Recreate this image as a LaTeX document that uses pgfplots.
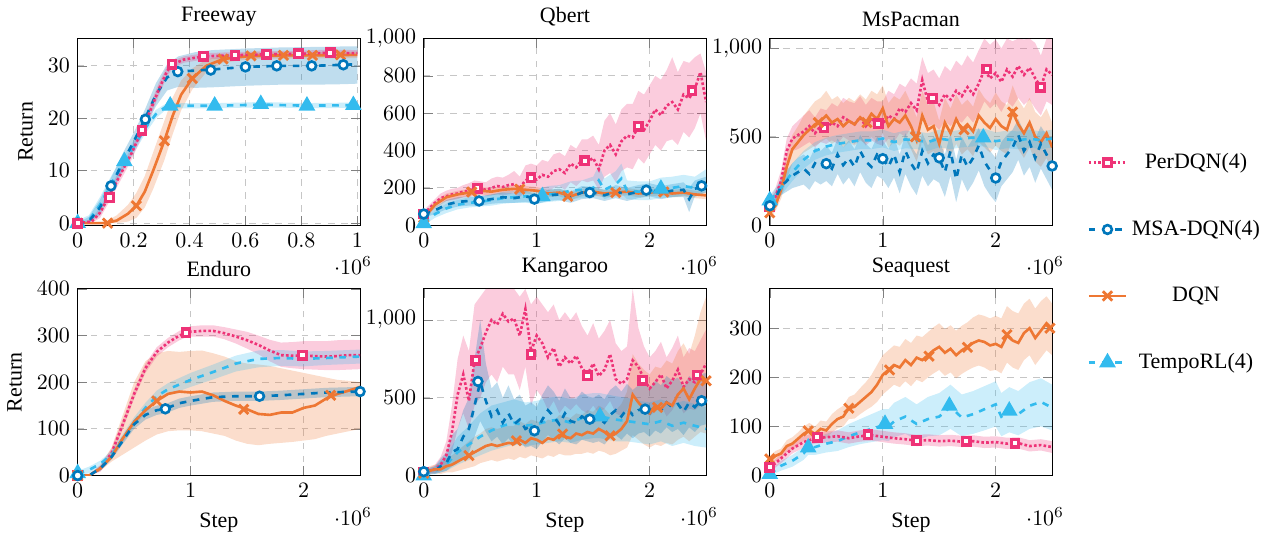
\documentclass[border=0pt]{standalone}
\usepackage{fontspec}
\setmainfont{Liberation Serif}
\usepackage{pgfplots}
\usepackage{pgfplotstable}
\pgfplotsset{compat=1.18}
\usepgfplotslibrary{groupplots,fillbetween}

\definecolor{cPer}{HTML}{EE3377}
\definecolor{cMsa}{HTML}{0077BB}
\definecolor{cDqn}{HTML}{EE7733}
\definecolor{cTem}{HTML}{33BBEE}

\pgfplotsset{
  per/.style={cPer, very thick, densely dotted, mark=square*, mark size=1.7pt,
    mark options={solid, fill=white, line width=1.5pt}},
  msa/.style={cMsa, very thick, dashed, mark=*, mark size=2pt,
    mark options={solid, fill=white, line width=1.2pt}},
  dqn/.style={cDqn, very thick, mark=x, mark size=3pt,
    mark options={solid, line width=1.3pt}},
  tem/.style={cTem, very thick, dashed, mark=triangle*, mark size=3.2pt,
    mark options={solid}},
  sx/.style={scaled x ticks=manual:{$\cdot 10^{6}$}{\pgfmathparse{##1}},
    every x tick scale label/.style={at={(xticklabel cs:0.975)}, anchor=north,
      inner sep=0pt, yshift=-1pt}},
}

\newcommand{\band}[3]{%
  \addplot[draw=none, forget plot, name path=#3h] table[x=x,y=hi]{#1};
  \addplot[draw=none, forget plot, name path=#3l] table[x=x,y=lo]{#1};
  \addplot[fill=#2, fill opacity=0.25, draw=none, forget plot] fill between[of=#3h and #3l];}
\newcommand{\curve}[2]{\addplot[#2, no marks, forget plot] table[x=x,y=y]{#1};}

% ---------------- Freeway
\pgfplotstableread{
x y lo hi
0 0 0 0
0.05 0.3 0 0.8
0.08 2 1 3
0.11 4.9 3.8 6
0.15 9 7.8 10.2
0.19 13 11.8 14.2
0.23 17.7 16.5 18.9
0.26 21.5 20.3 22.7
0.29 25.5 24.3 26.7
0.32 29 28 30
0.34 30.3 29.6 31
0.38 31.2 30.6 31.8
0.45 31.8 31.2 32.4
0.55 32 31.4 32.6
0.68 32.2 31.6 32.8
0.8 32.3 31.7 32.9
0.9 32.5 31.9 33.1
1.0 32.4 31.8 33
}\fwP
\pgfplotstableread{
x y lo hi
0 0 0 0
0.04 0.3 0 1.2
0.08 3 1.5 4.5
0.12 7.1 5.5 8.7
0.16 11.5 9.8 13.2
0.2 15.5 13.8 17.2
0.24 19.8 18 21.6
0.28 24.5 22.3 26.7
0.32 27.8 25.3 30.3
0.36 28.9 26 31.8
0.42 29.1 25.8 32.6
0.48 29.3 25.9 33
0.6 29.8 26.2 33.3
0.72 30 26.4 33.5
0.84 30 26.4 33.6
0.95 30.2 26.5 33.7
1.0 30.3 26.6 33.7
}\fwM
\pgfplotstableread{
x y lo hi
0 0 0 0
0.1 0 0 0.3
0.14 0.5 0 1.5
0.18 1.8 0.3 3.5
0.21 3.3 1 5.8
0.24 6 3 9
0.27 10 6.5 13.5
0.31 15.7 12 19.5
0.34 20.5 17 24
0.37 24.5 21.5 27.2
0.41 27.6 25.5 29.5
0.46 30 28.8 31.2
0.52 31.3 30.6 32
0.62 31.9 31.3 32.5
0.74 32 31.4 32.6
0.85 32 31.4 32.6
1.0 32.1 31.5 32.7
}\fwD
\pgfplotstableread{
x y lo hi
0 0 0 0.5
0.04 0.5 0 1.5
0.08 3.5 2 5
0.12 7.5 6 9
0.167 11.8 10.5 13.1
0.2 14.5 13.3 15.7
0.24 18 16.9 19.1
0.28 20.8 20 21.6
0.31 22 21.4 22.6
0.33 22.4 21.9 22.9
0.5 22.4 21.9 22.9
0.66 22.6 22.1 23.1
0.82 22.4 21.9 22.9
1.0 22.5 22 23
}\fwT

% ---------------- Qbert
\pgfplotstableread{
x y lo hi
0 60 40 80
0.05 90 70 110
0.1 120 100 140
0.15 145 120 170
0.2 155 130 185
0.25 165 135 195
0.3 170 140 200
0.35 180 150 215
0.4 185 150 225
0.45 200 160 240
0.5 195 160 235
0.55 190 155 230
0.6 200 160 250
0.65 210 165 260
0.7 205 160 255
0.75 215 165 270
0.8 220 170 290
0.85 200 150 260
0.9 240 180 320
0.95 255 190 330
1.0 245 180 320
1.05 270 190 350
1.1 260 180 340
1.15 290 200 380
1.2 300 210 390
1.25 280 190 370
1.3 330 230 430
1.35 310 210 410
1.4 350 240 460
1.45 340 230 460
1.5 360 240 480
1.55 300 190 430
1.6 400 260 560
1.65 430 280 600
1.7 380 230 540
1.75 450 290 620
1.8 480 310 650
1.85 470 300 650
1.9 530 360 720
1.95 510 330 700
2.0 560 380 750
2.05 620 430 800
2.1 590 400 780
2.15 640 450 830
2.2 660 460 900
2.25 620 430 820
2.3 700 500 880
2.35 680 470 870
2.4 730 520 900
2.45 820 600 920
2.5 660 450 820
}\qbP
\pgfplotstableread{
x y lo hi
0 60 40 80
0.1 80 60 100
0.2 110 85 135
0.3 125 100 150
0.4 130 105 155
0.5 130 105 155
0.6 140 115 165
0.7 150 120 175
0.8 145 120 170
0.9 155 125 185
1.0 140 115 165
1.1 160 130 190
1.2 165 135 195
1.3 150 120 180
1.4 175 140 210
1.5 175 145 205
1.6 160 130 190
1.7 180 145 215
1.8 165 130 200
1.9 180 145 215
2.0 190 155 225
2.1 175 140 210
2.2 185 150 220
2.3 190 150 230
2.35 140 70 200
2.4 195 155 240
2.5 215 175 260
}\qbM
\pgfplotstableread{
x y lo hi
0 40 25 55
0.1 110 90 130
0.2 150 130 170
0.3 165 145 185
0.4 175 155 195
0.5 185 165 205
0.6 180 160 200
0.7 190 170 210
0.8 195 175 215
0.9 190 170 210
1.0 185 165 205
1.1 170 150 190
1.2 175 155 195
1.3 155 135 175
1.4 175 155 195
1.5 180 160 200
1.6 170 150 190
1.7 175 155 195
1.8 180 160 200
1.9 170 150 190
2.0 175 155 195
2.1 180 160 200
2.2 170 150 190
2.3 175 155 195
2.4 165 145 185
2.5 160 140 180
}\qbD
\pgfplotstableread{
x y lo hi
0 10 0 30
0.1 60 40 80
0.2 90 65 115
0.3 110 85 135
0.4 120 95 150
0.5 125 100 155
0.6 135 105 165
0.7 145 115 180
0.8 150 120 185
0.9 155 120 195
1.0 150 115 190
1.1 165 125 210
1.2 170 130 215
1.3 185 140 235
1.4 190 145 240
1.5 200 150 260
1.55 240 170 320
1.6 190 140 250
1.7 220 160 290
1.75 250 170 330
1.8 185 140 240
1.9 180 135 235
2.0 180 135 235
2.1 195 145 255
2.2 200 150 260
2.3 210 160 270
2.4 200 150 260
2.5 240 180 300
}\qbT

% ---------------- MsPacman
\pgfplotstableread{
x y lo hi
0 110 70 150
0.05 160 110 210
0.1 250 190 310
0.15 420 350 490
0.2 490 420 560
0.25 510 430 590
0.3 530 450 620
0.35 560 470 650
0.4 520 440 610
0.45 560 470 660
0.5 550 460 650
0.55 580 480 690
0.6 560 460 670
0.65 610 500 720
0.7 590 480 700
0.75 570 460 690
0.8 610 490 730
0.85 560 450 680
0.9 600 480 720
0.95 580 460 700
1.0 570 450 700
1.05 620 490 760
1.1 600 470 740
1.15 660 520 800
1.2 640 500 780
1.25 690 550 830
1.3 650 510 800
1.35 820 640 950
1.4 700 560 860
1.45 720 570 880
1.5 680 540 830
1.55 740 590 900
1.6 710 560 870
1.65 760 600 930
1.7 730 580 900
1.75 780 620 960
1.8 740 580 920
1.85 800 630 990
1.9 880 700 1055
1.95 830 660 1020
2.0 860 690 1050
2.05 810 640 1000
2.1 880 700 1055
2.15 840 670 1040
2.2 900 720 1055
2.25 850 680 1050
2.3 890 710 1055
2.35 830 660 1030
2.4 780 620 960
2.45 880 700 1055
2.5 850 680 1050
}\msP
\pgfplotstableread{
x y lo hi
0 110 80 140
0.05 150 110 190
0.1 220 170 270
0.15 250 190 310
0.2 280 210 350
0.25 300 220 380
0.3 320 230 400
0.35 290 200 370
0.4 350 250 440
0.45 330 230 420
0.5 355 250 450
0.55 320 220 410
0.6 400 290 490
0.65 340 230 440
0.7 380 270 480
0.75 330 220 430
0.8 420 300 510
0.85 360 240 460
0.9 330 210 430
0.95 400 280 500
1.0 380 260 480
1.05 330 210 430
1.1 400 270 500
1.15 300 180 400
1.2 420 290 520
1.25 350 220 450
1.3 300 170 400
1.35 420 280 520
1.4 350 220 450
1.45 400 260 500
1.5 380 240 480
1.55 300 160 400
1.6 420 280 520
1.65 260 130 370
1.7 400 260 500
1.75 330 190 440
1.8 380 240 490
1.85 450 310 550
1.9 360 220 470
1.95 310 170 420
2.0 270 130 380
2.05 360 220 470
2.1 400 260 510
2.15 440 300 540
2.2 510 370 600
2.25 420 280 530
2.3 470 330 570
2.35 380 240 490
2.4 460 320 560
2.45 400 260 510
2.5 340 200 450
}\msM
\pgfplotstableread{
x y lo hi
0 70 40 100
0.05 110 80 150
0.1 200 150 260
0.15 330 260 400
0.2 430 350 510
0.25 470 380 560
0.3 510 410 620
0.35 540 430 660
0.4 570 450 700
0.45 590 470 720
0.5 620 490 760
0.55 580 460 710
0.6 600 480 730
0.65 560 440 690
0.7 590 470 720
0.75 570 450 700
0.8 610 480 740
0.85 580 460 710
0.9 630 500 760
0.95 600 470 740
1.0 660 520 790
1.05 560 440 690
1.1 600 470 730
1.15 580 450 710
1.2 620 490 760
1.25 560 430 690
1.3 480 360 610
1.35 620 480 760
1.4 540 400 680
1.45 560 420 700
1.5 460 340 590
1.55 580 440 720
1.6 520 390 660
1.65 600 460 740
1.7 540 400 680
1.75 570 430 710
1.8 530 390 670
1.85 620 470 770
1.9 580 440 720
1.95 550 410 690
2.0 600 450 750
2.05 560 420 700
2.1 540 400 680
2.15 640 490 790
2.2 570 430 710
2.25 520 380 660
2.3 580 440 720
2.35 500 360 640
2.4 470 330 610
2.45 520 380 660
2.5 440 300 580
}\msD
\pgfplotstableread{
x y lo hi
0 140 110 170
0.1 210 170 250
0.2 300 250 350
0.3 370 320 420
0.4 420 370 470
0.5 445 395 495
0.6 460 410 510
0.7 470 420 520
0.8 480 430 530
0.9 480 430 530
1.0 490 440 540
1.1 470 420 520
1.2 485 435 535
1.3 480 430 530
1.4 470 420 520
1.5 490 440 540
1.6 480 430 530
1.7 490 440 540
1.8 495 445 545
1.9 495 445 545
2.0 475 425 525
2.1 485 435 535
2.2 480 430 530
2.3 490 440 540
2.4 480 430 530
2.5 490 440 540
}\msT

% ---------------- Enduro
\pgfplotstableread{
x y lo hi
0 0 0 0
0.1 0 0 2
0.2 15 8 22
0.3 48 38 58
0.4 110 100 120
0.5 175 165 185
0.6 230 220 240
0.7 265 255 275
0.8 285 275 295
0.9 300 290 310
0.96 306 296 316
1.0 308 298 320
1.1 310 298 322
1.2 310 298 322
1.3 305 292 318
1.4 298 283 313
1.5 290 272 308
1.6 280 260 300
1.7 268 245 291
1.8 258 233 285
1.9 257 230 286
2.0 257 228 288
2.1 256 227 288
2.2 255 226 288
2.3 256 226 290
2.4 258 227 291
2.5 258 228 290
}\enP
\pgfplotstableread{
x y lo hi
0 0 0 0
0.1 0 0 2
0.2 15 10 20
0.3 40 34 46
0.4 75 68 82
0.5 110 100 120
0.6 130 120 140
0.7 140 130 150
0.776 143 133 153
0.9 155 145 165
1.0 160 150 170
1.2 168 158 178
1.4 170 160 180
1.61 170 160 180
1.8 172 162 182
2.0 175 165 185
2.2 178 168 188
2.5 180 170 190
}\enM
\pgfplotstableread{
x y lo hi
0 0 0 0
0.1 0 0 2
0.2 15 10 22
0.3 40 30 60
0.4 80 45 130
0.5 115 60 200
0.6 140 75 245
0.7 160 88 262
0.8 175 95 267
0.9 180 97 265
1.0 178 97 267
1.1 180 95 268
1.2 172 90 262
1.3 160 85 255
1.4 150 75 245
1.5 142 68 240
1.6 132 65 238
1.7 130 68 235
1.8 135 70 230
1.9 135 72 225
2.0 145 75 220
2.1 150 78 215
2.2 165 85 210
2.3 175 90 205
2.4 182 95 203
2.5 190 100 200
}\enD
\pgfplotstableread{
x y lo hi
0 5 0 10
0.1 12 5 19
0.2 25 18 32
0.3 45 37 53
0.4 80 71 89
0.5 115 105 125
0.6 145 134 156
0.7 170 158 182
0.8 185 172 198
0.9 195 181 209
1.0 205 190 220
1.2 222 206 238
1.4 240 223 257
1.6 250 232 268
1.8 252 235 269
2.0 250 234 266
2.2 252 237 267
2.5 255 240 270
}\enT

% ---------------- Kangaroo
\pgfplotstableread{
x y lo hi
0 20 0 40
0.05 30 10 50
0.1 40 15 70
0.15 70 30 120
0.2 130 60 220
0.25 280 150 450
0.3 520 300 750
0.35 650 400 900
0.4 480 300 800
0.45 740 450 1100
0.5 820 500 1150
0.55 920 600 1200
0.6 1000 650 1200
0.65 970 600 1200
0.7 1040 700 1200
0.75 990 650 1200
0.8 1010 650 1200
0.85 900 550 1150
0.9 1070 700 1200
0.95 800 450 1100
1.0 900 550 1150
1.05 850 500 1100
1.1 760 420 1050
1.15 820 480 1100
1.2 700 400 1000
1.25 760 450 1050
1.3 720 420 1000
1.35 770 460 1050
1.4 690 420 960
1.45 650 400 900
1.5 720 450 980
1.55 640 400 880
1.6 680 430 930
1.65 780 480 1000
1.7 620 400 850
1.75 590 380 800
1.8 620 420 830
1.85 740 500 1200
1.9 700 480 950
1.95 620 420 830
2.0 560 380 760
2.05 600 420 800
2.1 650 450 860
2.15 560 380 760
2.2 610 420 820
2.25 680 480 900
2.3 570 400 760
2.35 620 430 820
2.4 600 420 800
2.45 650 450 870
2.5 720 500 940
}\kaP
\pgfplotstableread{
x y lo hi
0 25 10 40
0.05 30 15 50
0.1 30 10 60
0.15 60 20 110
0.2 80 30 150
0.25 150 60 260
0.3 170 80 300
0.35 250 120 420
0.4 300 150 500
0.45 450 250 750
0.5 600 350 1000
0.55 480 280 720
0.6 380 220 560
0.65 420 250 600
0.7 340 200 500
0.75 400 240 580
0.8 330 190 490
0.85 360 220 520
0.9 300 180 450
0.95 320 190 470
1.0 290 170 440
1.05 360 220 520
1.1 420 260 580
1.15 380 230 540
1.2 330 200 480
1.25 400 240 560
1.3 350 210 500
1.35 340 200 490
1.4 380 230 540
1.45 360 220 510
1.5 350 210 500
1.55 370 220 520
1.6 340 200 490
1.65 390 240 550
1.7 420 260 580
1.75 380 230 540
1.8 430 270 590
1.85 390 240 550
1.9 420 270 580
1.95 430 280 590
2.0 400 250 560
2.05 450 290 610
2.1 420 270 580
2.15 470 310 640
2.2 440 280 610
2.25 460 300 630
2.3 410 260 570
2.35 470 310 640
2.4 440 280 610
2.45 480 320 650
2.5 490 330 660
}\kaM
\pgfplotstableread{
x y lo hi
0 15 0 40
0.05 30 10 60
0.1 40 15 70
0.15 40 10 80
0.2 60 20 110
0.25 70 20 130
0.3 90 30 160
0.35 110 40 190
0.4 130 50 220
0.45 150 60 250
0.5 170 80 270
0.55 190 90 300
0.6 200 100 310
0.65 190 90 300
0.7 200 100 310
0.75 210 110 320
0.8 205 100 320
0.85 230 120 350
0.9 210 110 330
0.95 240 130 360
1.0 230 120 350
1.05 210 110 330
1.1 240 130 360
1.15 230 120 350
1.2 260 140 390
1.25 250 130 380
1.3 240 130 370
1.35 270 140 400
1.4 260 140 390
1.45 280 150 420
1.5 270 140 410
1.55 300 160 450
1.6 280 150 430
1.65 250 130 390
1.7 270 140 420
1.75 300 160 460
1.8 350 180 540
1.85 520 260 780
1.9 470 230 720
1.95 430 200 680
2.0 400 180 650
2.05 450 200 700
2.1 430 190 690
2.15 470 210 740
2.2 450 200 720
2.25 520 230 800
2.3 560 250 850
2.35 490 220 780
2.4 560 250 900
2.45 620 280 1050
2.5 600 270 1150
}\kaD
\pgfplotstableread{
x y lo hi
0 0 0 20
0.1 30 10 60
0.2 70 30 130
0.3 150 70 250
0.4 200 100 320
0.5 250 130 400
0.6 290 160 450
0.7 320 180 470
0.8 340 200 490
0.9 320 190 470
1.0 330 200 480
1.1 350 210 500
1.2 360 220 510
1.3 340 210 490
1.4 370 230 520
1.5 380 240 530
1.56 380 240 530
1.7 360 220 510
1.8 350 220 500
1.9 340 210 480
2.0 330 200 470
2.1 350 220 490
2.2 320 190 460
2.3 340 210 480
2.4 320 190 460
2.5 300 180 440
}\kaT

% ---------------- Seaquest
\pgfplotstableread{
x y lo hi
0 30 20 40
0.05 40 30 50
0.1 45 35 55
0.15 60 48 72
0.2 65 52 78
0.25 75 62 88
0.3 85 70 100
0.35 92 77 107
0.4 85 70 100
0.45 95 80 112
0.5 92 76 110
0.55 105 88 125
0.6 115 96 135
0.65 120 100 142
0.7 137 115 160
0.75 140 116 165
0.8 150 125 178
0.85 160 133 190
0.9 170 140 205
0.95 185 150 225
1.0 205 165 245
1.05 215 175 255
1.1 225 185 265
1.15 220 180 262
1.2 235 192 278
1.25 225 182 270
1.3 240 195 285
1.35 235 190 282
1.4 245 200 292
1.45 255 208 302
1.5 262 215 310
1.55 250 203 298
1.6 258 210 306
1.65 245 198 295
1.7 255 207 305
1.75 262 214 312
1.8 270 220 322
1.85 275 224 328
1.9 272 220 325
1.95 265 213 320
2.0 268 215 325
2.05 262 208 320
2.1 285 230 345
2.15 275 220 335
2.2 270 215 330
2.25 290 235 350
2.3 300 245 360
2.35 280 225 340
2.4 295 240 355
2.45 310 255 365
2.5 298 245 350
}\sqD
\pgfplotstableread{
x y lo hi
0 15 8 22
0.1 35 25 45
0.2 55 45 67
0.3 68 57 80
0.4 76 65 88
0.5 78 67 90
0.6 80 69 92
0.7 76 65 88
0.8 80 69 92
0.9 82 71 94
1.0 79 68 91
1.1 76 65 88
1.2 74 63 86
1.3 71 60 83
1.4 72 61 84
1.5 70 59 82
1.6 71 60 83
1.7 69 58 81
1.8 70 59 82
1.9 67 56 79
2.0 68 57 80
2.1 65 54 77
2.2 66 55 78
2.3 60 49 72
2.4 62 51 74
2.5 58 46 70
}\sqP
\pgfplotstableread{
x y lo hi
0 3 0 10
0.1 20 10 30
0.2 30 18 42
0.3 45 32 58
0.34 57 42 72
0.4 58 42 75
0.5 65 47 85
0.6 70 50 92
0.7 80 58 105
0.8 88 64 115
0.9 95 68 125
1.0 102 72 135
1.05 100 70 135
1.1 110 78 148
1.2 120 85 160
1.3 105 72 145
1.4 115 80 160
1.5 120 82 168
1.6 140 95 185
1.7 118 80 165
1.8 125 85 172
1.9 135 92 182
2.0 145 100 192
2.05 120 80 168
2.12 132 88 180
2.2 125 82 172
2.3 142 95 190
2.4 150 100 198
2.5 138 92 185
}\sqT

\begin{document}
\begin{tikzpicture}
\begin{groupplot}[
  group style={group size=3 by 2, horizontal sep=29pt, vertical sep=29pt},
  scale only axis, width=128.6pt, height=85pt,
  xmin=0, xmax=2.5, xtick={0,1,2}, sx,
  grid=major, grid style={dashed, gray!45},
  title style={yshift=-4pt},
]
% Freeway
\nextgroupplot[title={Freeway}, ylabel={Return}, xmin=0, xmax=1.01,
  xtick={0,0.2,0.4,0.6,0.8,1}, ymin=-0.4, ymax=35.2, ytick={0,10,20,30}]
\band{\fwM}{cMsa}{a}\band{\fwD}{cDqn}{b}\band{\fwP}{cPer}{c}\band{\fwT}{cTem}{d}
\curve{\fwD}{dqn}\curve{\fwT}{tem}\curve{\fwM}{msa}\curve{\fwP}{per}
\addplot[dqn, only marks] coordinates {(0,0)(0.107,0)(0.21,3.3)(0.31,15.7)(0.41,27.6)(0.52,31.3)(0.62,31.9)(0.736,32)(0.84,32)(0.94,32.1)};
\addplot[tem, only marks] coordinates {(0,0)(0.167,11.8)(0.331,22.4)(0.49,22.4)(0.655,22.7)(0.82,22.4)(0.986,22.5)};
\addplot[msa, only marks] coordinates {(0,0)(0.119,7.1)(0.242,19.8)(0.358,28.9)(0.476,29.2)(0.6,29.8)(0.712,30)(0.837,30)(0.95,30.2)};
\addplot[per, only marks] coordinates {(0,0)(0.114,4.9)(0.23,17.7)(0.337,30.3)(0.45,31.8)(0.563,32)(0.676,32.2)(0.79,32.3)(0.903,32.5)};

% Qbert
\nextgroupplot[title={Qbert}, ymin=0, ymax=1000, ytick={0,200,400,600,800,1000}]
\band{\qbP}{cPer}{a}\band{\qbD}{cDqn}{b}\band{\qbM}{cMsa}{c}\band{\qbT}{cTem}{d}
\curve{\qbP}{per}\curve{\qbD}{dqn}\curve{\qbT}{tem}\curve{\qbM}{msa}
\addplot[per, only marks] coordinates {(0,60)(0.475,198)(0.95,255)(1.425,345)(1.9,530)(2.375,720)};
\addplot[dqn, only marks] coordinates {(0,40)(0.425,178)(0.85,193)(1.275,155)(1.7,175)(2.125,178)};
\addplot[tem, only marks] coordinates {(0,10)(1.05,155)(2.1,195)};
\addplot[msa, only marks] coordinates {(0,60)(0.49,130)(0.98,140)(1.47,175)(1.97,188)(2.46,211)};

% MsPacman
\nextgroupplot[title={MsPacman}, ymin=0, ymax=1055, ytick={0,500,1000},
  legend style={at={(1.10,-0.2)}, anchor=west, draw=none, fill=none,
    row sep=18pt}, legend cell align=center]
\addlegendimage{per}\addlegendentry{PerDQN(4)}
\addlegendimage{msa}\addlegendentry{MSA-DQN(4)}
\addlegendimage{dqn}\addlegendentry{DQN}
\addlegendimage{tem}\addlegendentry{TempoRL(4)}
\band{\msP}{cPer}{a}\band{\msD}{cDqn}{b}\band{\msM}{cMsa}{c}\band{\msT}{cTem}{d}
\curve{\msP}{per}\curve{\msD}{dqn}\curve{\msT}{tem}\curve{\msM}{msa}
\addplot[per, only marks] coordinates {(0,107)(0.48,551)(0.96,573)(1.44,718)(1.92,883)(2.40,780)};
\addplot[dqn, only marks] coordinates {(0,70)(0.43,580)(0.86,580)(1.29,500)(1.72,540)(2.15,640)};
\addplot[tem, only marks] coordinates {(0,140)(1.89,495)};
\addplot[msa, only marks] coordinates {(0,110)(0.5,348)(1.0,376)(1.5,381)(2.0,267)(2.5,335)};

% Enduro
\nextgroupplot[title={Enduro}, ylabel={Return}, xlabel={Step}, ymin=0, ymax=400,
  ytick={0,100,200,300,400}]
\band{\enD}{cDqn}{a}\band{\enP}{cPer}{b}\band{\enT}{cTem}{c}\band{\enM}{cMsa}{d}
\curve{\enP}{per}\curve{\enT}{tem}\curve{\enD}{dqn}\curve{\enM}{msa}
\addplot[per, only marks] coordinates {(0,0)(0.96,306)(1.99,258)};
\addplot[tem, only marks] coordinates {(0,5)};
\addplot[dqn, only marks] coordinates {(0,0)(0.7,160)(1.47,142)(2.24,172)};
\addplot[msa, only marks] coordinates {(0,0)(0.776,143)(1.61,170)(2.5,180)};

% Kangaroo
\nextgroupplot[title={Kangaroo}, xlabel={Step}, ymin=0, ymax=1200, ytick={0,500,1000}]
\band{\kaP}{cPer}{a}\band{\kaD}{cDqn}{b}\band{\kaT}{cTem}{c}\band{\kaM}{cMsa}{d}
\curve{\kaP}{per}\curve{\kaT}{tem}\curve{\kaM}{msa}\curve{\kaD}{dqn}
\addplot[per, only marks] coordinates {(0,20)(0.46,741)(0.95,780)(1.45,641)(1.94,613)(2.42,647)};
\addplot[tem, only marks] coordinates {(0,0)(1.56,380)};
\addplot[dqn, only marks] coordinates {(0,15)(0.4,128)(0.82,224)(1.23,267)(1.65,256)(2.07,438)(2.5,609)};
\addplot[msa, only marks] coordinates {(0,25)(0.48,605)(0.98,288)(1.47,363)(1.96,427)(2.46,481)};

% Seaquest
\nextgroupplot[title={Seaquest}, xlabel={Step}, ymin=0, ymax=380, ytick={0,100,200,300}]
\band{\sqD}{cDqn}{a}\band{\sqT}{cTem}{b}\band{\sqP}{cPer}{c}
\curve{\sqD}{dqn}\curve{\sqT}{tem}\curve{\sqP}{per}
\addplot[dqn, only marks] coordinates {(0,34)(0.34,91)(0.7,137)(1.06,215)(1.41,243)(1.75,261)(2.1,287)(2.48,300)};
\addplot[tem, only marks] coordinates {(0,3)(0.34,57)(1.02,105)(1.59,142)(2.12,132)};
\addplot[per, only marks] coordinates {(0,17)(0.42,78)(0.87,83)(1.3,71)(1.74,70)(2.17,66)};
\end{groupplot}
\end{tikzpicture}
\end{document}
